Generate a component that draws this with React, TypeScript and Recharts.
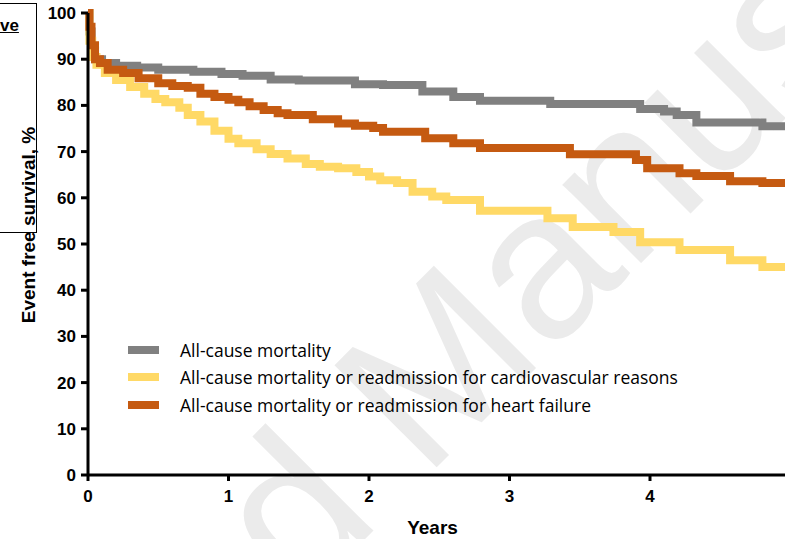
import React from 'react';
import { LineChart, Line, XAxis, YAxis, Legend } from 'recharts';

const xTicks = [0, 1, 2, 3, 4, 5];
const yTicks = [0, 10, 20, 30, 40, 50, 60, 70, 80, 90, 100];

const seriesNames = [
  'All-cause mortality',
  'All-cause mortality or readmission for cardiovascular reasons',
  'All-cause mortality or readmission for heart failure',
];

const mortalityTimes = [0, 0.01, 0.025, 0.05, 0.1, 0.2, 0.35, 0.5, 0.75, 0.95, 1.1, 1.3, 1.5, 1.9, 2.1, 2.38, 2.6, 2.79, 3.29, 3.93, 4.1, 4.19, 4.33, 4.8, 4.97];
const mortalityValues = [100, 96, 92, 90, 89.2, 88.6, 88.2, 87.7, 87.3, 86.8, 86.4, 85.6, 85.4, 84.6, 84.4, 83.0, 81.8, 81.0, 80.3, 79.2, 78.7, 77.9, 76.3, 75.5, 75.5];

const cvTimes = [0, 0.01, 0.03, 0.06, 0.12, 0.2, 0.3, 0.4, 0.48, 0.55, 0.65, 0.71, 0.8, 0.9, 1.0, 1.07, 1.2, 1.3, 1.42, 1.55, 1.65, 1.78, 1.91, 2.0, 2.08, 2.2, 2.31, 2.45, 2.55, 2.79, 3.27, 3.45, 3.74, 3.93, 4.21, 4.57, 4.8, 4.97];
const cvValues = [100, 94, 90.5, 88.8, 87, 85.5, 84, 82.5, 81.4, 80.7, 79.5, 77.9, 76.5, 74.5, 72.8, 71.8, 70.5, 69.5, 68.5, 67.3, 66.7, 66.4, 65.6, 64.6, 63.8, 63.2, 61.3, 60.3, 59.5, 57.2, 55.6, 53.7, 52.6, 50.4, 48.7, 46.5, 45.0, 45.0];

const hfTimes = [0, 0.01, 0.025, 0.05, 0.085, 0.14, 0.25, 0.36, 0.5, 0.6, 0.71, 0.8, 0.9, 1.0, 1.07, 1.15, 1.25, 1.35, 1.42, 1.6, 1.78, 1.9, 2.03, 2.1, 2.4, 2.6, 2.79, 3.43, 3.9, 3.98, 4.21, 4.33, 4.57, 4.8, 4.97];
const hfValues = [100, 97, 93, 90, 89.2, 87.7, 87, 85.9, 84.8, 84.2, 83.8, 82.5, 81.8, 81.2, 80.7, 79.8, 79, 78.3, 77.9, 77, 76.1, 75.6, 75.1, 74.3, 72.9, 71.8, 70.8, 69.4, 68.2, 66.4, 65.3, 64.7, 63.6, 63.2, 63.2];

const toPoints = (ts: number[], vs: number[]) => ts.map((t, i) => ({ t, v: vs[i] }));
const mortalityData = toPoints(mortalityTimes, mortalityValues);
const cvData = toPoints(cvTimes, cvValues);
const hfData = toPoints(hfTimes, hfValues);

const GRAY = '#808080';
const YELLOW = '#FFD966';
const ORANGE = '#C55A11';
const FONT = '"Liberation Sans", Arial, sans-serif';

const LegendContent = (props: any) => {
  const items = (props.payload || []).filter((p: any) => p.type !== 'none');
  return (
    <div style={{ fontFamily: '"Open Sans", sans-serif', fontSize: 17.5, color: '#000', textAlign: 'left' }}>
      {items.map((p: any, i: number) => (
        <div key={i} style={{ display: 'flex', alignItems: 'center', height: 27.5 }}>
          <div style={{ width: 31, height: 8, background: p.color, marginRight: 21, flex: 'none' }} />
          <span style={{ whiteSpace: 'nowrap' }}>{p.value}</span>
        </div>
      ))}
    </div>
  );
};

export default function App() {
  return (
    <div
      style={{
        position: 'absolute',
        left: 0,
        top: 0,
        width: 785,
        height: 539,
        overflow: 'hidden',
        background: '#fff',
        fontFamily: FONT,
      }}
    >
      <svg width={785} height={539} style={{ position: 'absolute', left: 0, top: 0 }}>
        <text
          x={-236}
          y={1140}
          transform="rotate(-45 -236 1140)"
          fill="#ebebeb"
          fontSize={210}
          fontFamily={FONT}
        >
          Accepted Manuscript
        </text>
      </svg>
      <div
        style={{
          position: 'absolute',
          left: -2,
          top: 3,
          width: 38,
          height: 228,
          borderTop: '1.5px solid #000',
          borderRight: '1.5px solid #000',
          borderBottom: '1.5px solid #000',
        }}
      />
      <div
        style={{
          position: 'absolute',
          left: 0,
          top: 16,
          fontWeight: 'bold',
          fontSize: 17,
          textDecoration: 'underline',
          lineHeight: '20px',
        }}
      >
        ve
      </div>
      <LineChart
        width={800}
        height={539}
        margin={{ top: 13, right: 9.5, left: 0, bottom: 0 }}
        style={{ position: 'absolute', left: 0, top: 0 }}
      >
        <XAxis
          type="number"
          dataKey="t"
          domain={[0, 5]}
          ticks={xTicks}
          interval={0}
          height={64}
          tickSize={6}
          tickMargin={9}
          axisLine={{ stroke: '#000', strokeWidth: 3 }}
          tickLine={{ stroke: '#000', strokeWidth: 3 }}
          tick={{ fill: '#000', fontSize: 17, fontWeight: 'bold', fontFamily: FONT }}
          allowDuplicatedCategory={false}
          label={{
            content: ({ viewBox }: any) => (
              <text
                x={viewBox.x + 344.5}
                y={viewBox.y + 59}
                textAnchor="middle"
                fontSize={19}
                fontWeight="bold"
                fontFamily={FONT}
                fill="#000"
              >
                Years
              </text>
            ),
          }}
        />
        <YAxis
          type="number"
          domain={[0, 100]}
          ticks={yTicks}
          interval={0}
          width={88}
          tickSize={7}
          tickMargin={5}
          axisLine={{ stroke: '#000', strokeWidth: 3 }}
          tickLine={{ stroke: '#000', strokeWidth: 3 }}
          tick={{ fill: '#000', fontSize: 17, fontWeight: 'bold', fontFamily: FONT }}
          label={{
            content: ({ viewBox }: any) => {
              const cx = viewBox.x + 35;
              const cy = viewBox.y + viewBox.height / 2 - 19;
              return (
                <text
                  x={cx}
                  y={cy}
                  transform={`rotate(-90 ${cx} ${cy})`}
                  textAnchor="middle"
                  fontSize={19}
                  fontWeight="bold"
                  fontFamily={FONT}
                  fill="#000"
                >
                  Event free survival, %
                </text>
              );
            },
          }}
        />
        <Legend
          layout="horizontal"
          verticalAlign="middle"
          align="center"
          content={LegendContent}
          wrapperStyle={{ position: 'absolute', left: 128, top: 336, width: 650, height: 90 }}
        />
        <Line
          data={mortalityData}
          dataKey="v"
          name={seriesNames[0]}
          type="stepAfter"
          stroke={GRAY}
          strokeWidth={8}
          dot={false}
          activeDot={false}
          isAnimationActive={false}
        />
        <Line
          data={cvData}
          dataKey="v"
          name={seriesNames[1]}
          type="stepAfter"
          stroke={YELLOW}
          strokeWidth={8}
          dot={false}
          activeDot={false}
          isAnimationActive={false}
        />
        <Line
          data={hfData}
          dataKey="v"
          name={seriesNames[2]}
          type="stepAfter"
          stroke={ORANGE}
          strokeWidth={8}
          dot={false}
          activeDot={false}
          isAnimationActive={false}
        />
      </LineChart>
    </div>
  );
}
